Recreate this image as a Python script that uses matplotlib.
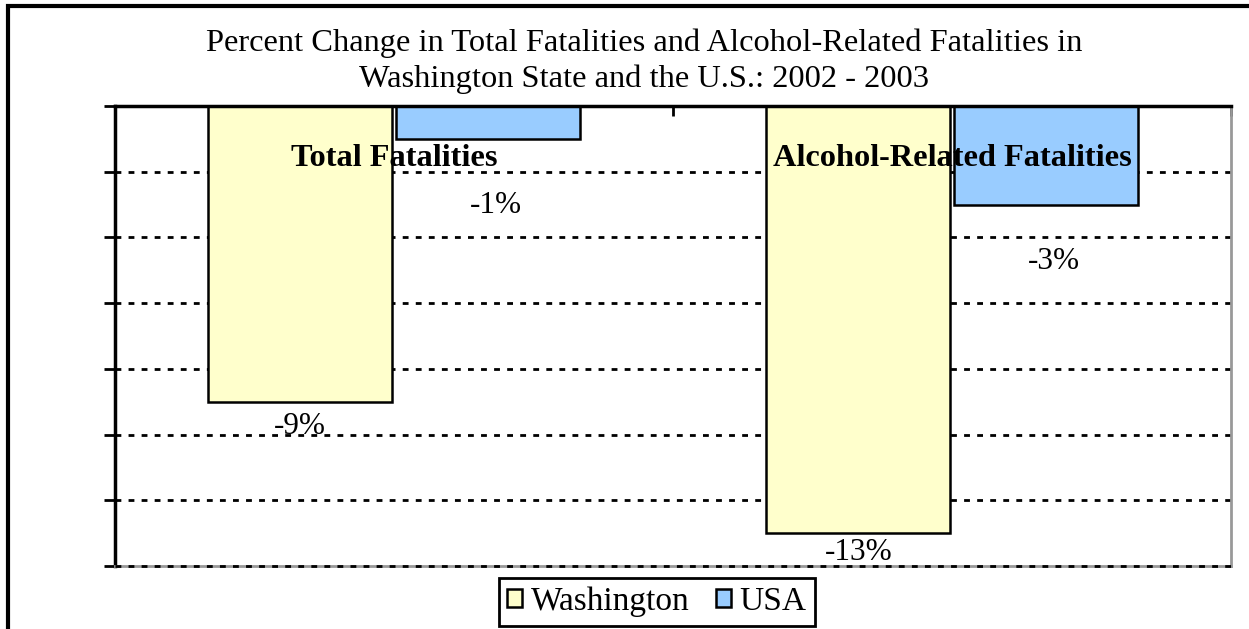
import matplotlib
matplotlib.use('Agg')
import matplotlib.pyplot as plt
from matplotlib.patches import Rectangle
import numpy as np

# data
categories = ['Total Fatalities', 'Alcohol-Related Fatalities']
washington = [-9, -13]
usa = [-1, -3]
wa_labels = ['-9%', '-13%']
usa_labels = ['-1%', '-3%']
series_names = ['Washington', 'USA']
y_ticks = [0, -2, -4, -6, -8, -10, -12, -14]

plt.rcParams['font.family'] = ['Liberation Serif', 'DejaVu Serif']

fig = plt.figure(figsize=(12.49, 6.29), dpi=100)
ax = fig.add_axes([115/1249, 1 - 566/629, (1231 - 115)/1249, (566 - 106)/629])

x = np.arange(len(categories))
w = 0.33
off = 0.168

# dotted grid first so the bars sit over it
for t in y_ticks[1:]:
    ax.axhline(t, color='black', lw=2, linestyle=(0, (2.1, 2.6)), zorder=3 if t == -14 else 1,
               clip_on=False)

bars_wa = ax.bar(x - off, washington, w, color='#FFFFCC', edgecolor='black', lw=1.8, zorder=2, label=series_names[0])
bars_us = ax.bar(x + off, usa, w, color='#99CCFF', edgecolor='black', lw=1.8, zorder=2, label=series_names[1])

# value labels below each bar (offsets as they sit in the original)
for b, lab, dy in zip(bars_wa, wa_labels, [18, 14]):
    ax.annotate(lab, (b.get_x() + b.get_width()/2, b.get_height()), xytext=(0, -dy),
                textcoords='offset points', ha='center', va='center', fontsize=22.5, zorder=4)
for b, lab, dy in zip(bars_us, usa_labels, [48, 41]):
    ax.annotate(lab, (b.get_x() + b.get_width()/2 + 0.015, b.get_height()), xytext=(0, -dy),
                textcoords='offset points', ha='center', va='center', fontsize=22.5, zorder=4)

# category names drawn on top of the bars
for xi, c in zip(x, categories):
    ax.text(xi, -1.82, c, ha='center', va='baseline', fontsize=23.3, fontweight='bold', zorder=5)

ax.set_xlim(-0.5, 1.5)
ax.set_ylim(-14, 0)
ax.set_yticks(y_ticks)
ax.set_yticklabels([])
ax.tick_params(axis='y', direction='out', length=8, width=2)
ax.xaxis.tick_top()
ax.set_xticks([-0.5, 0.5, 1.5])
ax.set_xticklabels([])
ax.tick_params(axis='x', direction='in', length=7, width=2)

ax.spines['left'].set_linewidth(2.5)
ax.spines['top'].set_linewidth(2.5)
ax.spines['right'].set_color('#999999')
ax.spines['right'].set_linewidth(2)
ax.spines['bottom'].set_color('#999999')
ax.spines['bottom'].set_linewidth(2)

fig.text(0.516, 1 - 61/629,
         'Percent Change in Total Fatalities and Alcohol-Related Fatalities in\nWashington State and the U.S.: 2002 - 2003',
         ha='center', va='center', fontsize=23.4, linespacing=1.27)

leg = fig.legend(loc='center', bbox_to_anchor=(0.526, 0.043), ncol=2, fontsize=24,
                 frameon=True, fancybox=False, edgecolor='black', framealpha=1,
                 handlelength=0.45, handleheight=0.45, handletextpad=0.25,
                 columnspacing=0.8, borderpad=0.25, borderaxespad=0)
leg.get_frame().set_linewidth(2)

# outer chart border (runs off the right and bottom edges)
fig.patches.append(Rectangle((8/1249, -0.2), 1.2, 1 - 6/629 + 0.2, transform=fig.transFigure,
                             fill=False, edgecolor='black', lw=3))

fig.savefig('out.png', dpi=100)
